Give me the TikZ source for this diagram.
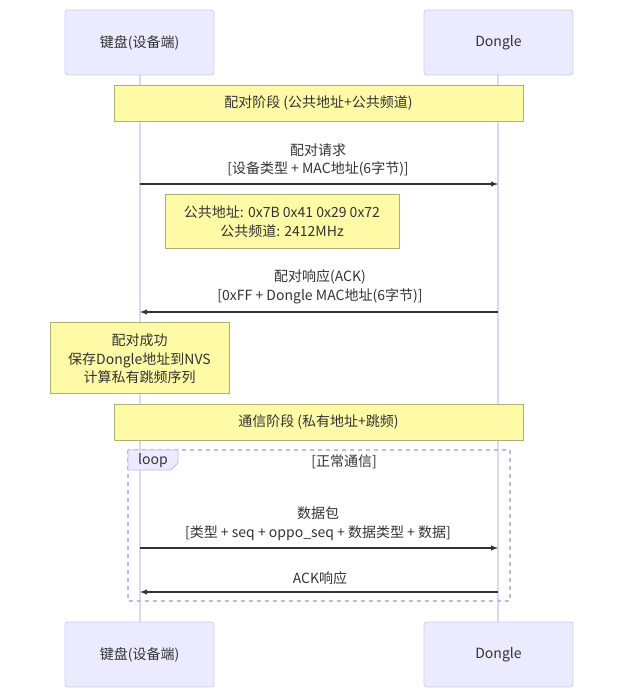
\documentclass[tikz,border=0pt]{standalone}
\usepackage{fontspec}
\setmainfont{Noto Sans CJK SC}
\begin{document}
\begin{tikzpicture}[x=0.75pt,y=-0.75pt,
 font=\fontsize{10.5}{13}\selectfont, text=black!80,
 actor/.style={draw=black!20!blue!20,fill=blue!8,rounded corners=2pt,line width=0.6pt},
 notebox/.style={draw=yellow!50!black!70,fill=yellow!35,line width=0.6pt},
 life/.style={draw=black!25!blue!15,line width=1pt},
 msg/.style={draw=black!80,line width=0.8pt,-latex},
 lbl/.style={align=center,inner sep=0pt}]
\useasboundingbox (0,0) rectangle (624,698);
% actors
\foreach \n/\x/\y/\t in {kt/65/10/键盘(设备端),dt/424/10/Dongle,kb/65/622/键盘(设备端),db/424/622/Dongle}{
 \draw[actor] (\x,\y) rectangle ++(149,65);
 \node[lbl] (\n) at (\x+74.5,\y+33) {\t};}
\coordinate (lt) at (140,75); \coordinate (lb) at (140,622);
\coordinate (rt) at (498,75); \coordinate (rb) at (498,622);
\draw[life] (lt) -- (lb); \draw[life] (rt) -- (rb);
% phase 1
\draw[notebox] (114,85) rectangle (523,121);
\node[lbl] (n1) at (318.5,103) {配对阶段 (公共地址+公共频道)};
\node[lbl] (m1) at (318,160) {配对请求\\[1pt][设备类型 + MAC地址(6字节)]};
\coordinate (a1) at (140,184); \coordinate (b1) at (498,184);
\draw[msg] (a1) -- (b1);
\draw[notebox] (165,194) rectangle (399,248);
\node[lbl] (n2) at (282,222) {公共地址: 0x7B 0x41 0x29 0x72\\[1pt]公共频道: 2412MHz};
\node[lbl] (m2) at (320,287) {配对响应(ACK)\\[1pt][0xFF + Dongle MAC地址(6字节)]};
\coordinate (a2) at (498,312); \coordinate (b2) at (140,312);
\draw[msg] (a2) -- (b2);
\draw[notebox] (50,322) rectangle (229,393);
\node[lbl] (n3) at (139.5,359) {配对成功\\[1pt]保存Dongle地址到NVS\\[1pt]计算私有跳频序列};
\draw[notebox] (114,404) rectangle (523,440);
\node[lbl] (n4) at (318.5,422) {通信阶段 (私有地址+跳频)};
% loop
\draw[draw=blue!30!violet!30,dashed,line width=1pt] (128,450) rectangle (510,601);
\draw[draw=blue!30!violet!30,fill=blue!8,line width=0.6pt] (128,450) -- (178,450) -- (178,463) -- (171,470) -- (128,470) -- cycle;
\node[lbl] (lp) at (153,461) {loop};
\node[lbl] (lc) at (344,462) {[正常通信]};
\node[lbl] (m3) at (318,524) {数据包\\[1pt][类型 + seq + oppo\_seq + 数据类型 + 数据]};
\coordinate (a3) at (140,548); \coordinate (b3) at (498,548);
\draw[msg] (a3) -- (b3);
\node[lbl] (m4) at (320,578) {ACK响应};
\coordinate (a4) at (498,592); \coordinate (b4) at (140,592);
\draw[msg] (a4) -- (b4);
\end{tikzpicture}
\end{document}
